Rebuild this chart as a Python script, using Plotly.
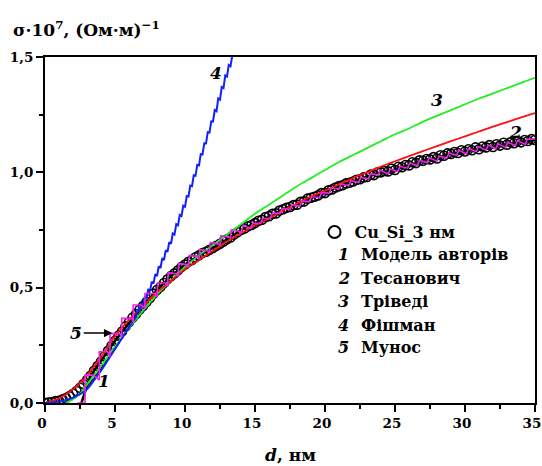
import numpy as np
import plotly.graph_objects as go

# ---------------- data ----------------
# experimental Cu_Si_3 nm (circles), d step 0.25 nm from 0 to 35
exp_d = np.arange(0, 35.001, 0.25)
exp_s = [
    0.000, 0.002, 0.004, 0.008, 0.010, 0.016, 0.022, 0.030, 0.040, 0.052, 0.066, 0.082,
    0.100, 0.118, 0.140, 0.160, 0.180, 0.203, 0.226, 0.248, 0.270, 0.292, 0.310, 0.332,
    0.350, 0.370, 0.386, 0.404, 0.420, 0.438, 0.455, 0.474, 0.490, 0.504, 0.520, 0.536,
    0.550, 0.562, 0.575, 0.590, 0.600, 0.612, 0.620, 0.632, 0.640, 0.650, 0.656, 0.664,
    0.672, 0.682, 0.690, 0.700, 0.710, 0.718, 0.730, 0.740, 0.750, 0.756, 0.766, 0.772,
    0.780, 0.790, 0.794, 0.806, 0.810, 0.820, 0.822, 0.834, 0.840, 0.846, 0.850, 0.858,
    0.860, 0.872, 0.874, 0.886, 0.890, 0.894, 0.900, 0.910, 0.910, 0.922, 0.926, 0.934,
    0.940, 0.944, 0.952, 0.955, 0.960, 0.968, 0.970, 0.978, 0.980, 0.990, 0.988, 1.000,
    1.000, 1.006, 1.004, 1.016, 1.010, 1.024, 1.022, 1.032, 1.030, 1.044, 1.040, 1.052,
    1.050, 1.058, 1.056, 1.066, 1.060, 1.074, 1.072, 1.082, 1.080, 1.088, 1.084, 1.096,
    1.090, 1.100, 1.096, 1.108, 1.100, 1.112, 1.108, 1.118, 1.110, 1.122, 1.116, 1.128,
    1.120, 1.130, 1.126, 1.136, 1.130, 1.140, 1.136, 1.144, 1.140,
]

# 1 - authors' model (black)
m1_d = [2.6, 2.8, 3.0, 3.2, 3.5] + list(np.arange(4.0, 35.001, 0.5))
m1_s = [0.0, 0.04, 0.08, 0.11, 0.14,
        0.18, 0.225, 0.27, 0.31, 0.35, 0.385, 0.42, 0.455, 0.49, 0.52, 0.55, 0.575,
        0.60, 0.62, 0.64, 0.656, 0.672, 0.69, 0.71, 0.73, 0.75, 0.766, 0.78, 0.795,
        0.81, 0.822, 0.84, 0.85, 0.86, 0.875, 0.89, 0.90, 0.91, 0.926, 0.94, 0.952,
        0.96, 0.97, 0.98, 0.99, 1.00, 1.004, 1.01, 1.022, 1.03, 1.04, 1.05, 1.056,
        1.06, 1.072, 1.08, 1.084, 1.09, 1.096, 1.10, 1.108, 1.11, 1.116, 1.12, 1.126,
        1.13, 1.136, 1.14]

# 2 - Tesanovic (red)
m2_d = [0, 1, 2, 3, 4, 5, 6, 7, 8, 9, 10, 11, 12, 13, 14, 15, 16, 17, 18, 19, 20, 21, 22,
        23, 24, 25, 26, 27, 28, 29, 30, 31, 32, 33, 34, 35]
m2_s = [0.0, 0.02, 0.06, 0.12, 0.20, 0.29, 0.36, 0.42, 0.48, 0.53, 0.58, 0.62, 0.66,
        0.70, 0.735, 0.77, 0.80, 0.835, 0.865, 0.895, 0.92, 0.948, 0.975, 1.0, 1.025,
        1.048, 1.07, 1.092, 1.114, 1.135, 1.156, 1.177, 1.198, 1.218, 1.238, 1.257]

# 3 - Trivedi (green)
m3_d = [1.5, 2.5, 3, 4, 5, 6, 7, 8, 9, 10, 11, 12, 13, 14, 15, 16, 17, 18, 19, 20, 21, 22,
        23, 24, 25, 26, 27, 28, 29, 30, 31, 32, 33, 34, 35]
m3_s = [0.0, 0.04, 0.08, 0.16, 0.245, 0.325, 0.40, 0.47, 0.53, 0.59, 0.64, 0.685, 0.73,
        0.775, 0.82, 0.86, 0.90, 0.94, 0.975, 1.01, 1.045, 1.075, 1.105, 1.135, 1.165,
        1.19, 1.22, 1.245, 1.27, 1.295, 1.32, 1.342, 1.365, 1.388, 1.41]

# 4 - Fishman (blue), jagged
m4_d = list(np.arange(0, 6.251, 0.25)) + list(np.arange(6.5, 13.376, 0.125))
m4_s = [0.000, 0.000, 0.001, 0.003, 0.005, 0.008, 0.012, 0.017, 0.023, 0.030, 0.038, 0.048,
        0.060, 0.078, 0.097, 0.118, 0.140, 0.163, 0.187, 0.211, 0.235, 0.259, 0.283, 0.307,
        0.330, 0.352,
        0.372, 0.4075, 0.397, 0.4325, 0.420, 0.461, 0.4525, 0.494, 0.485, 0.526, 0.5175, 0.559,
        0.550, 0.5925, 0.585, 0.6275, 0.620, 0.6625, 0.655, 0.6975, 0.690, 0.735, 0.730, 0.775,
        0.770, 0.815, 0.810, 0.855, 0.850, 0.8975, 0.895, 0.9425, 0.940, 0.9875, 0.985, 1.0325,
        1.030, 1.079, 1.0775, 1.126, 1.125, 1.174, 1.1725, 1.221, 1.220, 1.270, 1.265, 1.320,
        1.315, 1.370, 1.365, 1.420, 1.415, 1.465, 1.460, 1.505]

# 5 - Munoz (magenta), sawtooth
m5_d = [2.3, 2.86, 2.86, 3.45, 3.88, 3.88, 4.48, 4.64, 4.64, 5.36, 5.48, 5.48, 6.19, 6.3, 6.3,
        6.88, 7.14, 7.14, 7.86, 8.0, 8.05, 8.6, 8.75, 8.8, 9.35, 9.5, 9.55, 10.1, 10.25, 10.3,
        10.85, 11.0, 11.05, 11.6, 11.75, 11.8, 12.35, 12.5, 12.55, 13.1, 13.25, 13.3, 13.85,
        14.0, 14.15, 14.7, 14.85, 15.4, 15.55, 16.1, 16.25, 16.8, 16.95, 17.5, 17.65, 18.2, 18.35,
        18.9, 19.05, 19.6, 19.75, 20.3, 20.45, 21.0, 21.15, 21.7, 21.85, 22.4, 22.55, 23.1, 23.25,
        23.8, 23.95, 24.5, 24.65, 25.2, 25.35, 25.9, 26.05, 26.6, 26.75, 27.3, 27.45, 28.0, 28.15,
        28.7, 28.85, 29.4, 29.55, 30.1, 30.25, 30.8, 30.95, 31.5, 31.65, 32.2, 32.35, 32.9, 33.05,
        33.6, 33.75, 34.3, 34.45, 35.0]
m5_s = [0.0, 0.0, 0.121, 0.121, 0.10, 0.222, 0.222, 0.20, 0.302, 0.30, 0.285, 0.367, 0.367, 0.352,
        0.425, 0.425, 0.41, 0.475, 0.475, 0.46, 0.52, 0.52, 0.505, 0.565, 0.56, 0.55, 0.605, 0.60,
        0.59, 0.64, 0.635, 0.625, 0.665, 0.66, 0.655, 0.695, 0.69, 0.685, 0.725, 0.72, 0.715,
        0.75, 0.745, 0.738, 0.77, 0.758, 0.78, 0.778, 0.80, 0.801, 0.823, 0.822, 0.844, 0.838,
        0.86, 0.853, 0.875, 0.873, 0.895, 0.89, 0.912, 0.91, 0.932, 0.928, 0.95, 0.942, 0.964,
        0.956, 0.978, 0.972, 0.994, 0.988, 1.01, 0.993, 1.015, 1.004, 1.026, 1.018, 1.04,
        1.03, 1.052, 1.041, 1.063, 1.048, 1.07, 1.062, 1.084, 1.074, 1.096, 1.08, 1.102,
        1.09, 1.112, 1.096, 1.118, 1.102, 1.124, 1.108, 1.13, 1.116, 1.138, 1.121, 1.143, 1.145]

legend_rows = ["Cu_Si_3 нм", "Модель авторів", "Тесанович", "Тріведі", "Фішман", "Мунос"]
curve_nums = ["1", "2", "3", "4", "5"]

x_ticks = [0, 5, 10, 15, 20, 25, 30, 35]
y_ticks = [0.0, 0.5, 1.0, 1.5]

FONT = "DejaVu Serif"

fig = go.Figure()
fig.add_trace(go.Scatter(x=exp_d, y=exp_s, mode="markers", name=legend_rows[0],
                         marker=dict(symbol="circle-open", size=9, color="black",
                                     line=dict(width=1.6, color="black")),
                         showlegend=True))
fig.add_trace(go.Scatter(x=m1_d, y=m1_s, mode="lines", line=dict(color="black", width=2.5),
                         showlegend=False))
fig.add_trace(go.Scatter(x=m3_d, y=m3_s, mode="lines", line=dict(color="#22ee22", width=1.8, shape="spline"),
                         showlegend=False))
fig.add_trace(go.Scatter(x=m2_d, y=m2_s, mode="lines", line=dict(color="#ff1010", width=1.8, shape="spline"),
                         showlegend=False))
fig.add_trace(go.Scatter(x=m4_d, y=m4_s, mode="lines", line=dict(color="#1020ff", width=2),
                         showlegend=False))
fig.add_trace(go.Scatter(x=m5_d, y=m5_s, mode="lines", line=dict(color="#ee22ee", width=1.6),
                         showlegend=False))

axis_common = dict(showline=True, linecolor="black", linewidth=2, mirror=True,
                   ticks="outside", ticklen=7, tickwidth=2, tickcolor="black",
                   showgrid=False, zeroline=False, automargin=False,
                   ticklabeloverflow="allow",
                   tickfont=dict(family=FONT, size=13.5, color="black", weight="bold"))

fig.update_xaxes(range=[0, 35], tickvals=x_ticks, ticktext=[str(v) for v in x_ticks],
                 ticklabelshift=-3,
                 minor=dict(dtick=2.5, ticklen=4, tickwidth=2, tickcolor="black", ticks="outside"),
                 **axis_common)
fig.update_yaxes(range=[0, 1.5], tickvals=y_ticks,
                 ticktext=[f"{v:.1f}".replace(".", ",") for v in y_ticks],
                 minor=dict(dtick=0.25, ticklen=4, tickwidth=2, tickcolor="black", ticks="outside"),
                 **axis_common)

ann = []
lab_font = dict(family=FONT, size=17, color="black")
# curve labels on plot
for txt, x, y in [("3", 28.0, 1.315), ("2", 33.6, 1.175), ("4", 12.2, 1.43), ("1", 4.2, 0.095)]:
    ann.append(dict(x=x, y=y, xref="x", yref="y", text=f"<b><i>{txt}</i></b>", showarrow=False,
                    font=lab_font))
ann.append(dict(x=4.8, y=0.303, xref="x", yref="y", text="<b><i>5</i></b>", showarrow=True,
                ax=-36, ay=0, arrowhead=2, arrowsize=1.1, arrowwidth=1.5, arrowcolor="black",
                font=lab_font))

# legend rows for curves 1..5 (italic number + name)
row_y = [0.428, 0.361, 0.292, 0.225, 0.159]
for num, name, yy in zip(curve_nums, legend_rows[1:], row_y):
    ann.append(dict(x=0.61, y=yy, xref="paper", yref="paper", text=f"<b><i>{num}</i></b>",
                    showarrow=False, xanchor="center", yanchor="middle",
                    font=dict(family=FONT, size=16, color="black")))
    ann.append(dict(x=0.64, y=yy, xref="paper", yref="paper", text=f"<b>{name}</b>",
                    showarrow=False, xanchor="left", yanchor="middle",
                    font=dict(family=FONT, size=16, color="black")))

# y-axis title
ann.append(dict(x=-0.069, y=1.081, xref="paper", yref="paper",
                text="<b>σ·10<sup>7</sup>, (Ом·м)<sup>−1</sup></b>", showarrow=False,
                xanchor="left", yanchor="middle", font=dict(family=FONT, size=17, color="black")))
# x-axis title
ann.append(dict(x=0.5, y=-0.15, xref="paper", yref="paper",
                text="<b><i>d</i>, нм</b>", showarrow=False,
                xanchor="center", yanchor="middle", font=dict(family=FONT, size=17, color="black")))

fig.update_layout(
    width=542, height=466,
    margin=dict(l=45, r=7, t=57, b=63),
    paper_bgcolor="white", plot_bgcolor="white",
    annotations=ann,
    showlegend=True,
    legend=dict(x=0.55, y=0.494, xanchor="left", yanchor="middle", bgcolor="rgba(0,0,0,0)",
                font=dict(family=FONT, size=16, color="black", weight="bold"),
                itemsizing="constant"),
)

fig.write_html("out.html", config={"displayModeBar": False},
               post_script="document.body.style.margin='0';document.body.style.overflow='hidden';")
